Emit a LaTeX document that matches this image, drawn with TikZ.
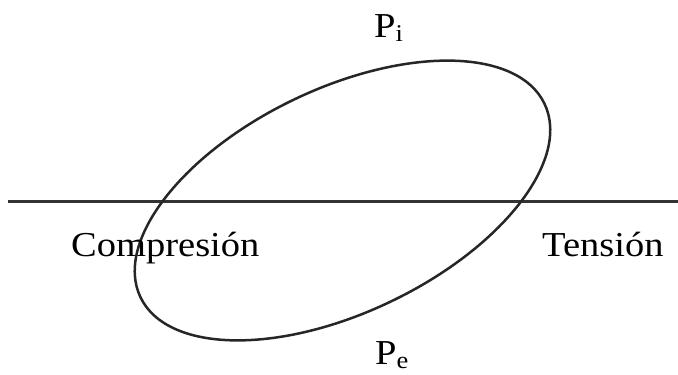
\documentclass[tikz,border=0pt]{standalone}
\usepackage{fontspec}
\setmainfont{Liberation Serif}
\tikzset{
  lbl/.style={inner sep=0pt, anchor=base west, font=\fontsize{35}{40}\selectfont, xscale=1.1, transform shape},
  curve/.style={line width=2.5pt, draw=black!85},
  axisline/.style={line width=3pt, draw=black!80}
}
\newcommand{\subsc}[1]{\raisebox{-4pt}{\fontsize{24}{26}\selectfont #1}}
\begin{document}
\begin{tikzpicture}[x=1pt,y=1pt]
\useasboundingbox (0,0) rectangle (678,375);
\coordinate (L) at (8,173);
\coordinate (R) at (678,173);
\coordinate (C) at (342.5,174.5);
\draw[axisline] (L) -- (R);
\draw[curve, rotate around={25.6:(C)}] (C) ellipse [x radius=224pt, y radius=112pt];
\node[lbl] (comp) at (71,118) {Compresión};
\node[lbl] (tens) at (542,118) {Tensión};
\node[lbl] (pi) at (374,337) {P\subsc{i}};
\node[lbl] (pe) at (375,10) {P\subsc{e}};
\end{tikzpicture}
\end{document}
